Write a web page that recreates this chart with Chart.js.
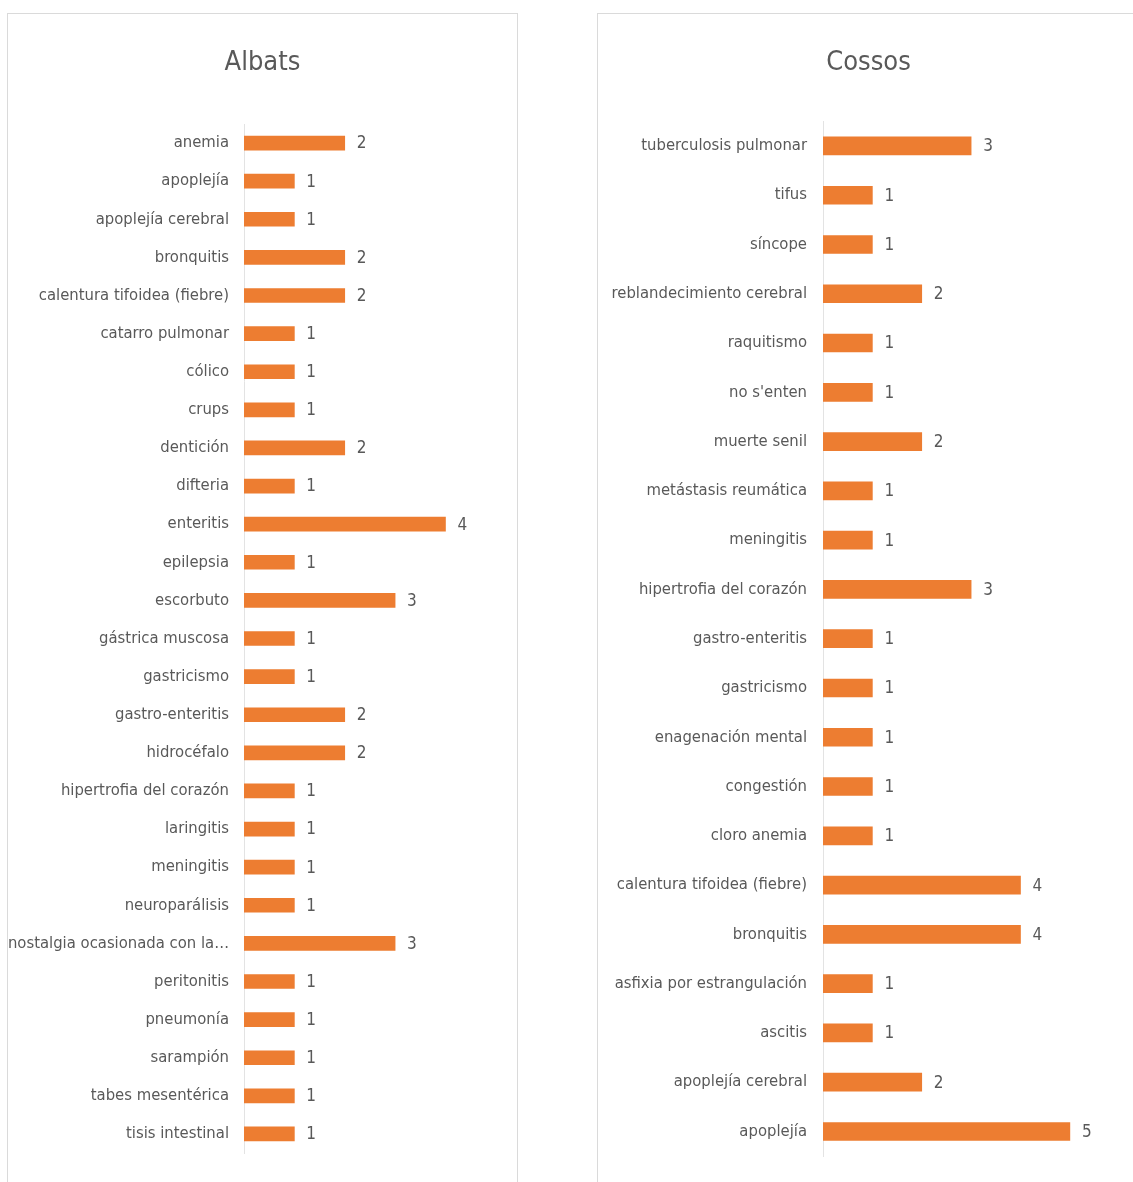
<!DOCTYPE html>
<html>
<head>
<meta charset="utf-8">
<script src="https://cdn.jsdelivr.net/npm/chart.js@4"></script>
<style>
  body { margin: 0; background: #fff; overflow: hidden; width: 1133px; height: 1182px; }
  .panel { position: absolute; top: 13px; height: 1180px; border: 1px solid #dadada; background: #fff; }
  #panelAlbats { left: 7px; width: 509px; }
  #panelCossos { left: 597px; width: 541px; }
  canvas { display: block; }
</style>
</head>
<body>
<div class="panel" id="panelAlbats"><canvas id="chartAlbats" width="509" height="1168"></canvas></div>
<div class="panel" id="panelCossos"><canvas id="chartCossos" width="541" height="1168"></canvas></div>
<script>
const albatsLabels = [
  "anemia", "apoplejía", "apoplejía cerebral", "bronquitis", "calentura tifoidea (fiebre)",
  "catarro pulmonar", "cólico", "crups", "dentición", "difteria", "enteritis", "epilepsia",
  "escorbuto", "gástrica muscosa", "gastricismo", "gastro-enteritis", "hidrocéfalo",
  "hipertrofia del corazón", "laringitis", "meningitis", "neuroparálisis",
  "nostalgia ocasionada con la…", "peritonitis", "pneumonía", "sarampión",
  "tabes mesentérica", "tisis intestinal"
];
const albatsValues = [2, 1, 1, 2, 2, 1, 1, 1, 2, 1, 4, 1, 3, 1, 1, 2, 2, 1, 1, 1, 1, 3, 1, 1, 1, 1, 1];

const cossosLabels = [
  "tuberculosis pulmonar", "tifus", "síncope", "reblandecimiento cerebral", "raquitismo",
  "no s'enten", "muerte senil", "metástasis reumática", "meningitis", "hipertrofia del corazón",
  "gastro-enteritis", "gastricismo", "enagenación mental", "congestión", "cloro anemia",
  "calentura tifoidea (fiebre)", "bronquitis", "asfixia por estrangulación", "ascitis",
  "apoplejía cerebral", "apoplejía"
];
const cossosValues = [3, 1, 1, 2, 1, 1, 2, 1, 1, 3, 1, 1, 1, 1, 1, 4, 4, 1, 1, 2, 5];

const FONT = "'DejaVu Sans Condensed', 'DejaVu Sans', sans-serif";
const TEXT = "#595959";
const ORANGE = "#ED7D31";

Chart.defaults.font.family = FONT;
Chart.defaults.color = TEXT;

// etiquetas de valor al final de cada barra
const valueLabels = {
  id: "valueLabels",
  afterDatasetsDraw(chart) {
    const ctx = chart.ctx;
    const meta = chart.getDatasetMeta(0);
    const values = chart.data.datasets[0].data;
    ctx.save();
    ctx.font = "17px " + FONT;
    ctx.fillStyle = TEXT;
    ctx.textAlign = "left";
    ctx.textBaseline = "middle";
    meta.data.forEach((bar, i) => {
      ctx.fillText(values[i], bar.x + 12, bar.y + 1);
    });
    ctx.restore();
  }
};

function crearGrafica(id, titulo, labels, values, cfg) {
  new Chart(document.getElementById(id), {
    type: "bar",
    data: {
      labels: labels,
      datasets: [{
        data: values,
        backgroundColor: ORANGE,
        borderWidth: 0,
        barThickness: cfg.barThickness
      }]
    },
    options: {
      indexAxis: "y",
      responsive: false,
      animation: false,
      layout: { padding: { left: 0, right: 0, top: 0, bottom: cfg.padBottom } },
      plugins: {
        legend: { display: false },
        tooltip: { enabled: false },
        title: {
          display: true,
          text: titulo,
          color: TEXT,
          font: { size: 27, weight: "normal", lineHeight: 1.2 },
          padding: { top: 33, bottom: cfg.titleBottom }
        }
      },
      scales: {
        x: { display: false, min: 0, max: cfg.xMax },
        y: {
          afterFit: (scale) => { scale.width = cfg.axisWidth; },
          grid: { display: false, drawTicks: false },
          border: { display: true, color: "#e3e3e3", width: 1 },
          ticks: {
            autoSkip: false,
            padding: cfg.tickPad,
            color: TEXT,
            font: { size: 16.5 }
          }
        }
      }
    },
    plugins: [valueLabels]
  });
}

crearGrafica("chartAlbats", "Albats", albatsLabels, albatsValues, {
  barThickness: 14, padBottom: 29, titleBottom: 44.6, axisWidth: 236, xMax: 5.42, tickPad: 15
});

crearGrafica("chartCossos", "Cossos", cossosLabels, cossosValues, {
  barThickness: 18, padBottom: 24, titleBottom: 41.9, axisWidth: 225, xMax: 6.4, tickPad: 16
});
</script>
</body>
</html>
